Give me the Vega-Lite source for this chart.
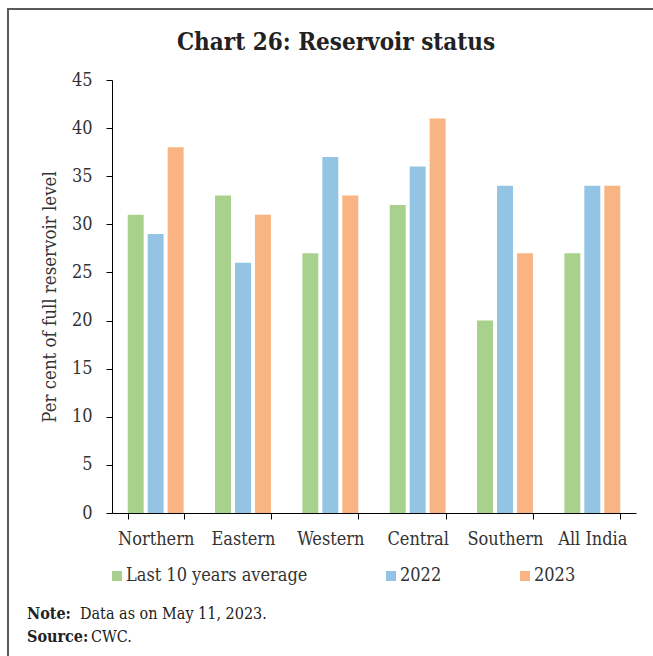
{
  "$schema": "https://vega.github.io/schema/vega-lite/v6.json",
  "width": 524,
  "height": 433,
  "autosize": "none",
  "padding": {"left": 112, "top": 80, "right": 17, "bottom": 143},
  "background": "white",
  "title": {
    "text": "Chart 26: Reservoir status",
    "font": "DejaVu Serif Condensed",
    "fontSize": 24,
    "fontWeight": "bold",
    "color": "#222222",
    "anchor": "middle",
    "frame": "group",
    "dx": -38,
    "dy": 63,
    "offset": 16
  },
  "config": {
    "view": {"stroke": null},
    "font": "DejaVu Serif Condensed",
    "axis": {
      "labelFont": "DejaVu Serif Condensed",
      "titleFont": "DejaVu Serif Condensed",
      "labelColor": "#333333",
      "titleColor": "#333333",
      "domainColor": "#000000",
      "tickColor": "#000000",
      "grid": false
    }
  },
  "data": {
    "values": [
      {"region": "Northern", "series": "Last 10 years average", "value": 31},
      {"region": "Northern", "series": "2022", "value": 29},
      {"region": "Northern", "series": "2023", "value": 38},
      {"region": "Eastern", "series": "Last 10 years average", "value": 33},
      {"region": "Eastern", "series": "2022", "value": 26},
      {"region": "Eastern", "series": "2023", "value": 31},
      {"region": "Western", "series": "Last 10 years average", "value": 27},
      {"region": "Western", "series": "2022", "value": 37},
      {"region": "Western", "series": "2023", "value": 33},
      {"region": "Central", "series": "Last 10 years average", "value": 32},
      {"region": "Central", "series": "2022", "value": 36},
      {"region": "Central", "series": "2023", "value": 41},
      {"region": "Southern", "series": "Last 10 years average", "value": 20},
      {"region": "Southern", "series": "2022", "value": 34},
      {"region": "Southern", "series": "2023", "value": 27},
      {"region": "All India", "series": "Last 10 years average", "value": 27},
      {"region": "All India", "series": "2022", "value": 34},
      {"region": "All India", "series": "2023", "value": 34}
    ]
  },
  "layer": [
    {
      "data": {"values": [{}]},
      "mark": {"type": "rect", "fill": null, "stroke": "#5a5a5a", "strokeWidth": 2},
      "encoding": {
        "x": {"value": -104},
        "x2": {"value": 560},
        "y": {"value": -71},
        "y2": {"value": 600}
      }
    },
    {
      "mark": {"type": "bar"},
      "encoding": {
        "x": {
          "field": "region",
          "type": "nominal",
          "sort": ["Northern", "Eastern", "Western", "Central", "Southern", "All India"],
          "scale": {"paddingInner": 0.36, "paddingOuter": 0.18},
          "axis": {
            "title": null,
            "labelAngle": 0,
            "labelFontSize": 18,
            "labelPadding": 11,
            "tickBand": "extent",
            "tickSize": 6,
            "labelLimit": 200
          }
        },
        "xOffset": {
          "field": "series",
          "type": "nominal",
          "sort": ["Last 10 years average", "2022", "2023"],
          "scale": {"paddingInner": 0.2, "paddingOuter": 0}
        },
        "y": {
          "field": "value",
          "type": "quantitative",
          "scale": {"domain": [0, 45], "nice": false},
          "axis": {
            "title": "Per cent of full reservoir level",
            "values": [0, 5, 10, 15, 20, 25, 30, 35, 40, 45],
            "labelFontSize": 18,
            "titleFontSize": 18.5,
            "titleFontWeight": "normal",
            "tickSize": 6,
            "labelPadding": 14,
            "titlePadding": 12
          }
        },
        "color": {
          "field": "series",
          "type": "nominal",
          "sort": ["Last 10 years average", "2022", "2023"],
          "scale": {
            "domain": ["Last 10 years average", "2022", "2023"],
            "range": ["#a9d18e", "#93c4e4", "#f8b483"]
          },
          "legend": {
            "title": null,
            "orient": "none",
            "legendX": -4,
            "legendY": 487,
            "direction": "horizontal",
            "columns": 3,
            "columnPadding": 74,
            "symbolType": "square",
            "symbolSize": 100,
            "symbolStrokeWidth": 0,
            "labelFont": "DejaVu Serif Condensed",
            "labelFontSize": 18,
            "labelColor": "#333333",
            "labelOffset": 0,
            "labelLimit": 300
          }
        }
      }
    },
    {
      "data": {"values": [{}]},
      "mark": {"type": "text", "align": "left", "baseline": "middle", "font": "DejaVu Serif Condensed", "fontSize": 16, "fontWeight": "bold", "color": "#222222"},
      "encoding": {"x": {"value": -85}, "y": {"value": 534}, "text": {"value": "Note:"}}
    },
    {
      "data": {"values": [{}]},
      "mark": {"type": "text", "align": "left", "baseline": "middle", "font": "DejaVu Serif Condensed", "fontSize": 16, "color": "#222222"},
      "encoding": {"x": {"value": -32}, "y": {"value": 534}, "text": {"value": "Data as on May 11, 2023."}}
    },
    {
      "data": {"values": [{}]},
      "mark": {"type": "text", "align": "left", "baseline": "middle", "font": "DejaVu Serif Condensed", "fontSize": 16, "fontWeight": "bold", "color": "#222222"},
      "encoding": {"x": {"value": -85}, "y": {"value": 557}, "text": {"value": "Source:"}}
    },
    {
      "data": {"values": [{}]},
      "mark": {"type": "text", "align": "left", "baseline": "middle", "font": "DejaVu Serif Condensed", "fontSize": 16, "color": "#222222"},
      "encoding": {"x": {"value": -21}, "y": {"value": 557}, "text": {"value": "CWC."}}
    }
  ]
}
